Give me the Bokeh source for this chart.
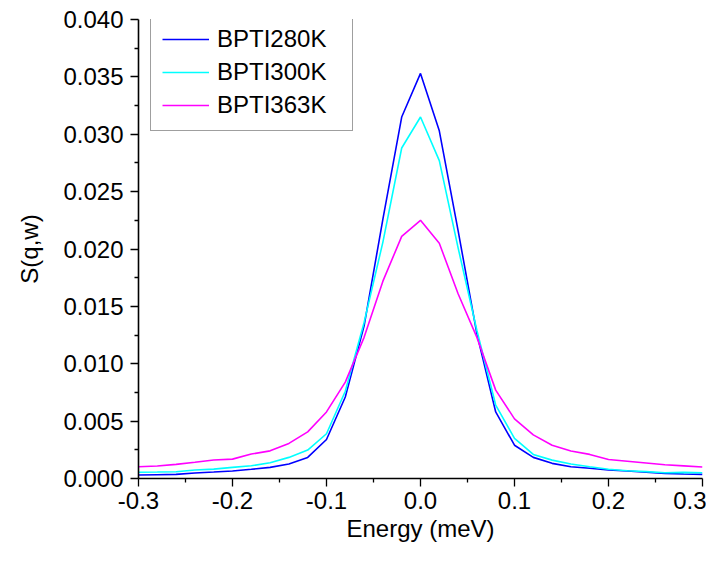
from bokeh.plotting import figure
from bokeh.models import Range1d, PrintfTickFormatter, FixedTicker, Legend, LegendItem
from bokeh.embed import file_html
from bokeh.resources import INLINE

energy = [-0.30, -0.28, -0.26, -0.24, -0.22, -0.20, -0.18, -0.16, -0.14, -0.12,
          -0.10, -0.08, -0.06, -0.04, -0.02, 0.00, 0.02, 0.04, 0.06, 0.08,
          0.10, 0.12, 0.14, 0.16, 0.18, 0.20, 0.22, 0.24, 0.26, 0.28, 0.30]

bpti280 = [0.00030, 0.00033, 0.00036, 0.00048, 0.00056, 0.00065, 0.00080, 0.00097, 0.00126, 0.00184,
           0.0034, 0.0071, 0.0133, 0.0226, 0.0315, 0.0353, 0.0303, 0.0216, 0.0126, 0.0058,
           0.0029, 0.00184, 0.00132, 0.00102, 0.00089, 0.00074, 0.00065, 0.00054, 0.00045, 0.00039, 0.00036]

bpti300 = [0.00054, 0.00056, 0.00059, 0.00074, 0.00082, 0.00097, 0.00111, 0.00137, 0.00184, 0.00248,
           0.0039, 0.0076, 0.0136, 0.0206, 0.0288, 0.0315, 0.0277, 0.0201, 0.0129, 0.0064,
           0.0035, 0.0021, 0.0016, 0.00126, 0.00102, 0.00080, 0.00068, 0.00060, 0.00050, 0.00053, 0.00050]

bpti363 = [0.00102, 0.00109, 0.00123, 0.00141, 0.00161, 0.00169, 0.00213, 0.00241, 0.00306, 0.00406,
           0.0058, 0.0084, 0.0123, 0.0172, 0.0211, 0.0225, 0.0205, 0.0161, 0.0123, 0.0077,
           0.0052, 0.0038, 0.0029, 0.0024, 0.0021, 0.00165, 0.0015, 0.00135, 0.0012, 0.0011, 0.0010]

series_names = ["BPTI280K", "BPTI300K", "BPTI363K"]
series_colors = ["#0000FF", "#00FFFF", "#FF00FF"]

x_ticks = [-0.3, -0.2, -0.1, 0.0, 0.1, 0.2, 0.3]
x_minor = [-0.25, -0.15, -0.05, 0.05, 0.15, 0.25]
y_ticks = [0.0, 0.005, 0.010, 0.015, 0.020, 0.025, 0.030, 0.035, 0.040]
y_minor = [0.0025, 0.0075, 0.0125, 0.0175, 0.0225, 0.0275, 0.0325, 0.0375]

p = figure(width=706, height=547, output_backend="svg", toolbar_location=None,
           x_range=Range1d(-0.3, 0.3), y_range=Range1d(0.0, 0.04),
           min_border_left=138, min_border_right=4, min_border_top=19, min_border_bottom=69)
p.outline_line_color = None
p.xgrid.visible = False
p.ygrid.visible = False
p.background_fill_color = "white"
p.border_fill_color = "white"

renderers = []
for ys, c in zip([bpti280, bpti300, bpti363], series_colors):
    r = p.line(energy, ys, line_color=c, line_width=1.6)
    renderers.append(r)

for ax in (p.xaxis[0], p.yaxis[0]):
    ax.axis_line_color = "black"
    ax.axis_line_width = 1.6
    ax.major_tick_line_color = "black"
    ax.minor_tick_line_color = "black"
    ax.major_tick_line_width = 1.3
    ax.minor_tick_line_width = 1.3
    ax.major_tick_in = 0
    ax.major_tick_out = 8
    ax.minor_tick_in = 0
    ax.minor_tick_out = 4
    ax.major_label_text_font = "Liberation Sans"
    ax.major_label_text_font_size = "24px"
    ax.major_label_text_color = "black"
    ax.axis_label_text_font = "Liberation Sans"
    ax.axis_label_text_font_size = "24px"
    ax.axis_label_text_font_style = "normal"
    ax.axis_label_text_color = "black"

p.xaxis.ticker = FixedTicker(ticks=x_ticks, minor_ticks=x_minor)
p.yaxis.ticker = FixedTicker(ticks=y_ticks, minor_ticks=y_minor)
p.xaxis.formatter = PrintfTickFormatter(format="%.1f")
p.yaxis.formatter = PrintfTickFormatter(format="%.3f")
p.xaxis.axis_label = "Energy (meV)"
p.yaxis.axis_label = "S(q,w)"
p.xaxis.major_label_standoff = 5
p.yaxis.major_label_standoff = 7
p.xaxis.axis_label_standoff = 3
p.yaxis.axis_label_standoff = 17

legend = Legend(items=[LegendItem(label=n, renderers=[r]) for n, r in zip(series_names, renderers)],
                location=(12, 347))
legend.label_text_font = "Liberation Sans"
legend.label_text_font_size = "24px"
legend.label_text_color = "black"
legend.glyph_width = 47
legend.label_standoff = 8
legend.label_width = 124
legend.label_height = 26
legend.glyph_height = 26
legend.spacing = 5
legend.padding = 11
legend.margin = 0
legend.border_line_color = "#404040"
legend.border_line_width = 1
legend.background_fill_alpha = 1.0
p.add_layout(legend, "center")

open("out.html", "w").write(file_html(p, INLINE))
